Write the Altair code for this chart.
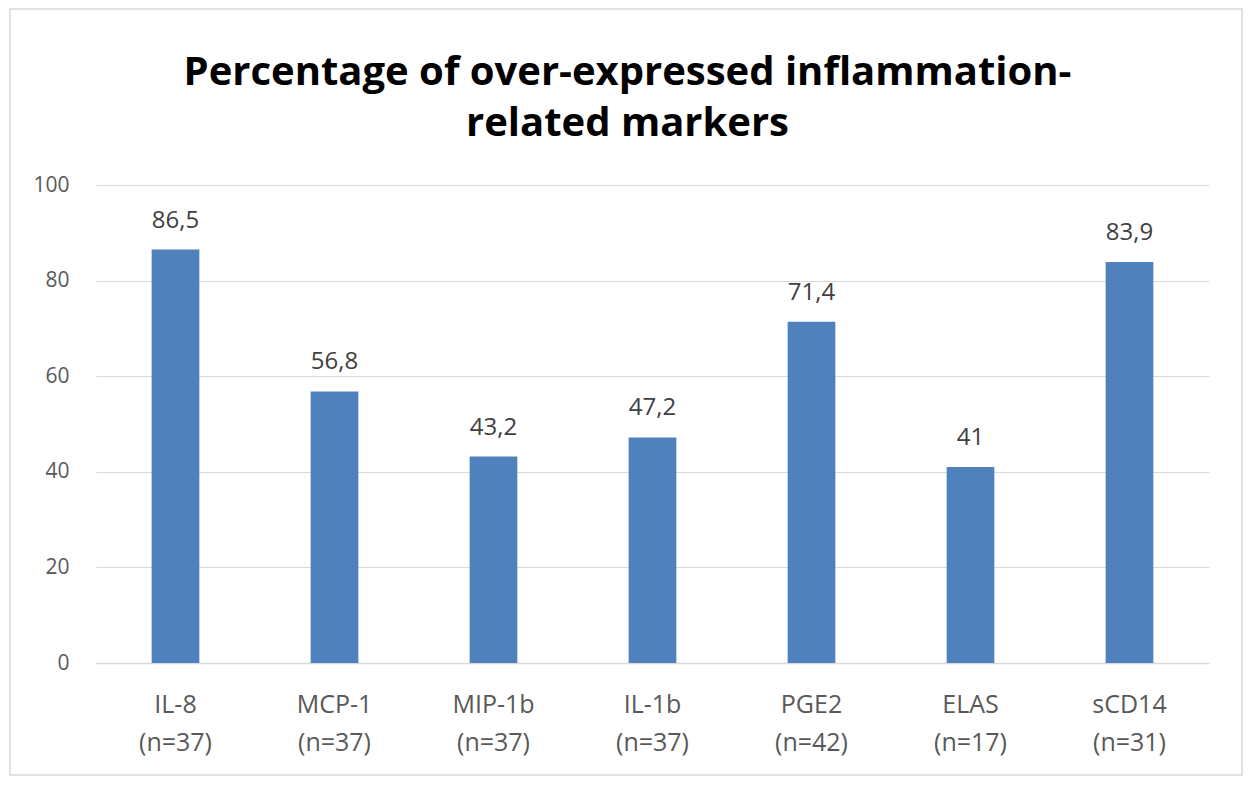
import altair as alt
import pandas as pd

categories = ["IL-8\n(n=37)", "MCP-1\n(n=37)", "MIP-1b\n(n=37)", "IL-1b\n(n=37)",
              "PGE2\n(n=42)", "ELAS\n(n=17)", "sCD14\n(n=31)"]
values = [86.5, 56.8, 43.2, 47.2, 71.4, 41.0, 83.9]
value_labels = ["86,5", "56,8", "43,2", "47,2", "71,4", "41", "83,9"]
y_ticks = [0, 20, 40, 60, 80, 100]

df = pd.DataFrame({"cat": categories, "val": values, "lab": value_labels})

W, H = 1113, 478
FONT = "Open Sans"

x = alt.X("cat:N", sort=categories, title=None,
          scale=alt.Scale(paddingInner=0.7, paddingOuter=0.35),
          axis=alt.Axis(labelExpr="split(datum.label, '\\n')", labelAngle=0,
                        labelFontSize=25, labelColor="#595959", labelFont=FONT,
                        labelLineHeight=38, labelPadding=29, ticks=False,
                        domainColor="#d9d9d9", domainWidth=1.5, labelBaseline="top"))
y = alt.Y("val:Q", title=None,
          scale=alt.Scale(domain=[0, 100], nice=False),
          axis=alt.Axis(values=y_ticks, labelFontSize=21, labelColor="#595959",
                        labelFont=FONT, ticks=False, domain=False, labelPadding=27,
                        gridColor="#d9d9d9", gridWidth=1.2))

base = alt.Chart(df)
bars = base.mark_bar(color="#4f81bd").encode(x=x, y=y)
text = base.mark_text(dy=-22, baseline="alphabetic", fontSize=24, color="#404040",
                      font=FONT).encode(x=alt.X("cat:N", sort=categories), y="val:Q",
                                        text="lab:N")
border = alt.Chart(pd.DataFrame({"k": [0]})).mark_rect(
    fill=None, stroke="#d9d9d9", strokeWidth=1.5, clip=False).encode(
    x=alt.value(-86), x2=alt.value(1146), y=alt.value(-176), y2=alt.value(590))

chart = alt.layer(border, bars, text).properties(
    width=W, height=H,
    autosize=alt.AutoSizeParams(type="none"),
    padding={"left": 88, "top": 177, "right": 35, "bottom": 115},
    title=alt.Title(["Percentage of over-expressed inflammation-", "related markers"],
                    fontSize=40, font=FONT, fontWeight="bold", color="#000000",
                    anchor="middle", frame="group", dx=-25, offset=-136, lineHeight=51),
).configure_view(stroke=None)

chart.save("out.html", embed_options={"renderer": "svg", "actions": False})
